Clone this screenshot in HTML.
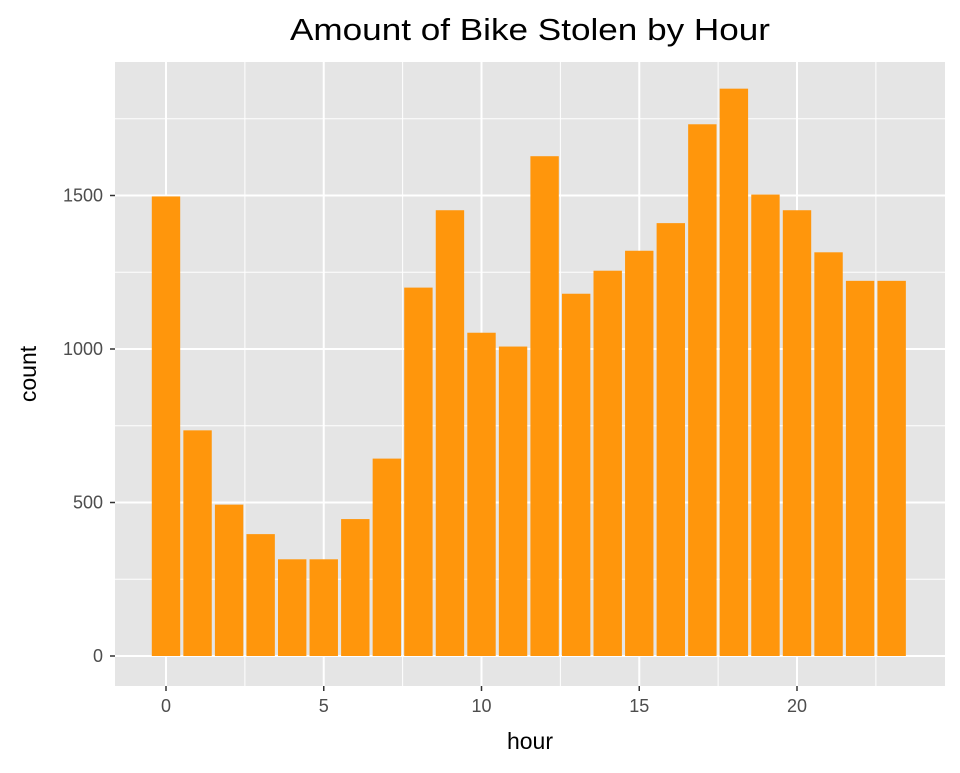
<!DOCTYPE html>
<html><head><meta charset="utf-8"><style>
body{margin:0;background:#fff;font-family:"Liberation Sans",Arial,sans-serif}
</style></head><body>
<svg id="chart" width="960" height="768" xmlns="http://www.w3.org/2000/svg" font-family="Liberation Sans, Arial, sans-serif">
<text x="530" y="40" font-size="31" text-anchor="middle" textLength="480" lengthAdjust="spacingAndGlyphs" fill="#000">Amount of Bike Stolen by Hour</text>
<rect x="115" y="62" width="830" height="624" fill="#e5e5e5"/>
<g id="grid"></g><g id="bars"></g><g id="axes"></g>
<text x="530" y="749" font-size="23" text-anchor="middle">hour</text>
<text transform="translate(36,374) rotate(-90)" font-size="23" text-anchor="middle">count</text>
</svg>
<script>
const hours=[0,1,2,3,4,5,6,7,8,9,10,11,12,13,14,15,16,17,18,19,20,21,22,23];
const counts=[1497,735,493,397,315,315,446,643,1200,1452,1053,1008,1628,1180,1255,1320,1410,1732,1848,1503,1452,1315,1222,1222];
const xTicks=[0,5,10,15,20];
const yTicks=[0,500,1000,1500];
const ns="http://www.w3.org/2000/svg";
const px0=115,px1=945,py0=62,py1=686;
const x=v=>166+v*31.55;
const y=v=>656-v*0.307;
function mk(t,a,p){const e=document.createElementNS(ns,t);for(const k in a)e.setAttribute(k,a[k]);p.appendChild(e);return e;}
const grid=document.getElementById('grid'),bars=document.getElementById('bars'),axes=document.getElementById('axes');
yTicks.forEach((t,i)=>{
 const g=mk('line',{x1:px0,x2:px1,y1:y(t),y2:y(t),stroke:'#fff','stroke-width':2},grid);
 
 
 const m=mk('line',{x1:px0,x2:px1,y1:y(t+250),y2:y(t+250),stroke:'#fff','stroke-width':1},grid);
 
 
 const tk=mk('line',{x1:110,x2:115,y1:y(t),y2:y(t),stroke:'#333','stroke-width':1.5},axes);
 
 
 const l=mk('text',{x:103,y:y(t)+6,'font-size':18,'text-anchor':'end',fill:'#4d4d4d'},axes);
 l.textContent=t;
 
 
});
xTicks.forEach(t=>{
 const g=mk('line',{x1:x(t),x2:x(t),y1:py0,y2:py1,stroke:'#fff','stroke-width':2},grid);
 
 
 const m=mk('line',{x1:x(t+2.5),x2:x(t+2.5),y1:py0,y2:py1,stroke:'#fff','stroke-width':1},grid);
 
 
 const tk=mk('line',{x1:x(t),x2:x(t),y1:686,y2:691,stroke:'#333','stroke-width':1.5},axes);
 
 
 const l=mk('text',{x:x(t),y:712,'font-size':18,'text-anchor':'middle',fill:'#4d4d4d'},axes);
 l.textContent=t;
 
 
});
hours.forEach((h,i)=>{
 const b=mk('rect',{x:x(h-0.45),width:0.9*31.55,y:y(counts[i]),height:y(0)-y(counts[i]),fill:'#ff960c'},bars);
 
 
});
</script>
</body></html>
